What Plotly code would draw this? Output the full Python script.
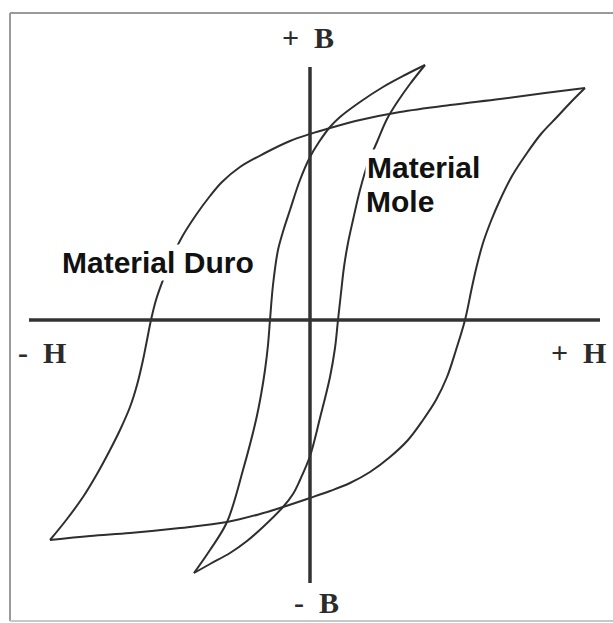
import plotly.graph_objects as go

# Hysteresis loops (H, B in arbitrary units; origin at axes crossing)
duro_upper_H = [27.5, 23.5, 19.0, 14.0, 9.0, 5.0, 2.0, 0.0, -2.0, -4.5, -7.0, -8.8, -10.0, -11.4, -12.8,
                -13.8, -14.7, -15.4, -15.9, -16.3, -16.7, -17.3, -18.0, -19.0, -20.0, -21.3, -22.7, -24.3, -26.0]
duro_upper_B = [23.2, 22.7, 22.1, 21.5, 20.8, 20.0, 19.2, 18.6, 17.9, 16.7, 15.3, 13.8, 12.4, 10.5, 8.3,
                6.3, 4.0, 2.0, 0.0, -2.0, -4.0, -6.5, -8.7, -11.0, -13.0, -15.4, -17.7, -19.9, -22.0]
duro_lower_H = [-26.0, -22.0, -18.0, -13.0, -8.3, -5.0, -2.7, 0.0, 2.0, 4.0, 6.0, 8.0, 9.8, 11.3, 12.6,
                13.7, 14.6, 15.5, 16.2, 16.7, 17.3, 18.1, 19.0, 20.2, 21.7, 23.1, 24.7, 26.1, 27.5]
duro_lower_B = [-22.0, -21.6, -21.3, -20.8, -20.2, -19.4, -18.7, -17.8, -17.1, -16.3, -15.2, -13.7, -12.0, -10.0, -8.0,
                -5.7, -3.0, 0.0, 3.3, 5.5, 7.7, 9.9, 12.0, 14.4, 16.7, 18.6, 20.3, 21.8, 23.2]

mole_upper_H = [11.5, 9.5, 7.3, 5.0, 3.0, 2.0, 0.9, 0.0, -1.0, -2.0, -2.65, -3.2, -3.7, -4.0, -4.2,
                -4.5, -4.9, -5.4, -6.7, -8.3, -10.0, -11.6]
mole_upper_B = [25.5, 24.5, 23.3, 21.8, 20.3, 19.3, 17.8, 16.3, 14.0, 11.0, 9.0, 7.0, 3.5, 0.0, -2.5,
                -5.0, -7.5, -10.0, -15.0, -20.2, -23.0, -25.3]
mole_lower_H = [-11.6, -10.0, -8.0, -6.3, -4.7, -2.7, -1.7, -1.0, 0.0, 1.0, 2.0, 2.5, 2.8, 3.1, 3.4,
                3.8, 4.3, 5.0, 5.8, 6.7, 7.7, 8.8, 10.0, 11.5]
mole_lower_B = [-25.3, -24.4, -23.3, -22.1, -20.7, -18.7, -17.4, -16.0, -13.6, -9.8, -5.7, -2.8, 0.0, 2.7, 5.3,
                7.7, 10.0, 13.0, 15.7, 17.8, 20.1, 21.9, 23.6, 25.5]

axis_H_extent = [-28.1, 29.0]
axis_B_extent = [-26.3, 25.3]

axis_labels = ["+  B", "-  B", "-  H", "+  H"]
axis_label_H = [-0.2, 0.6, -26.85, 26.85]
axis_label_B = [28.25, -28.25, -3.25, -3.25]

material_labels = ["Material Duro", "Material", "Mole"]
material_label_H = [-15.25, 11.3, 8.95]
material_label_B = [5.75, 15.25, 11.85]

curve_color = "#2e2e2e"
fig = go.Figure()

for hx, by in [(duro_upper_H, duro_upper_B), (duro_lower_H, duro_lower_B),
               (mole_upper_H, mole_upper_B), (mole_lower_H, mole_lower_B)]:
    fig.add_trace(go.Scatter(x=hx, y=by, mode="lines",
                             line=dict(color=curve_color, width=2, shape="spline", smoothing=1.0),
                             hoverinfo="skip", showlegend=False))

# axes
fig.add_trace(go.Scatter(x=axis_H_extent, y=[0, 0], mode="lines",
                         line=dict(color="#333333", width=3.5), hoverinfo="skip", showlegend=False))
fig.add_trace(go.Scatter(x=[0, 0], y=axis_B_extent, mode="lines",
                         line=dict(color="#333333", width=3.5), hoverinfo="skip", showlegend=False))

annotations = []
for t, hx, by in zip(axis_labels, axis_label_H, axis_label_B):
    annotations.append(dict(x=hx, y=by, xref="x", yref="y", text="<b>" + t + "</b>", showarrow=False,
                            font=dict(family="Liberation Serif", size=30, color="#2b2b2b"),
                            xanchor="center", yanchor="middle"))
for t, hx, by in zip(material_labels, material_label_H, material_label_B):
    annotations.append(dict(x=hx, y=by, xref="x", yref="y", text="<b>" + t + "</b>", showarrow=False,
                            font=dict(family="Liberation Sans", size=30, color="#111111"),
                            xanchor="center", yanchor="middle", bgcolor="white", borderpad=1))

frame_line = dict(color="#9a9a9a", width=2)
fig.update_layout(
    width=613, height=623,
    margin=dict(l=0, r=0, t=0, b=0),
    paper_bgcolor="white", plot_bgcolor="white",
    xaxis=dict(range=[-31.0, 30.3], visible=False, fixedrange=True),
    yaxis=dict(range=[-30.3, 32.0], visible=False, fixedrange=True),
    annotations=annotations,
    shapes=[
        dict(type="line", xref="x", yref="y", x0=-30.0, x1=30.3, y0=30.7, y1=30.7, line=frame_line, layer="below"),
        dict(type="line", xref="x", yref="y", x0=-30.0, x1=-30.0, y0=30.7, y1=-30.1, line=frame_line, layer="below"),
        dict(type="line", xref="x", yref="y", x0=-30.0, x1=30.3, y0=-30.1, y1=-30.1,
             line=dict(color="#c8c8c8", width=2), layer="below"),
    ],
)

fig.write_html("out.html", config={"displayModeBar": False},
               post_script="document.body.style.margin='0px';")
